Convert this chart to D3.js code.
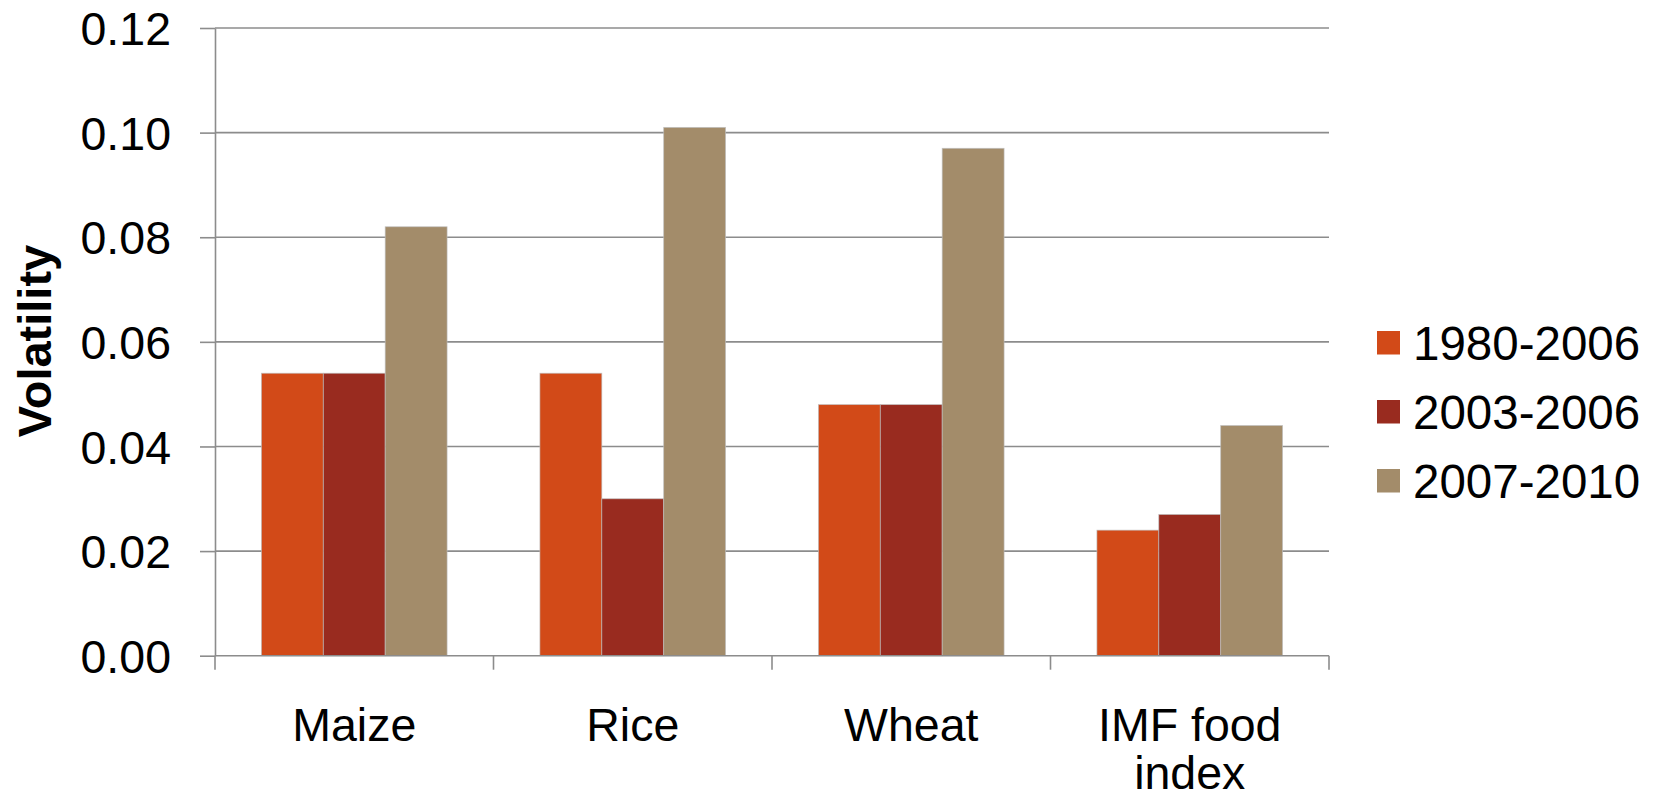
<!DOCTYPE html>
<html>
<head>
<meta charset="utf-8">
<script src="https://cdn.jsdelivr.net/npm/d3@7/dist/d3.min.js"></script>
<style>
  html, body { margin: 0; padding: 0; background: #fff; }
  svg { display: block; }
  text { font-family: "Liberation Sans", Arial, sans-serif; fill: #000; }
</style>
</head>
<body>
<svg id="chart" width="1659" height="799"></svg>
<script>
// Commodity price volatility by period
const categories = ["Maize", "Rice", "Wheat", "IMF food index"];
const periods = ["1980-2006", "2003-2006", "2007-2010"];
const vol1980_2006 = [0.054, 0.054, 0.048, 0.024];
const vol2003_2006 = [0.054, 0.030, 0.048, 0.027];
const vol2007_2010 = [0.082, 0.101, 0.097, 0.044];
const yTicks = [0, 0.02, 0.04, 0.06, 0.08, 0.10, 0.12];
const periodColors = ["#D24A18", "#992B1F", "#A38C6A"];

const seriesValues = [vol1980_2006, vol2003_2006, vol2007_2010];
const rows = categories.map((c, i) => ({
  category: c,
  values: periods.map((p, j) => ({ period: p, value: seriesValues[j][i] }))
}));

const svg = d3.select("#chart");
const plot = { left: 215, right: 1329, top: 28, bottom: 655.7 };
const gridColor = "#8c8c8c";

const x0 = d3.scaleBand().domain(categories).range([plot.left, plot.right]).padding(0);
const x1 = d3.scaleBand().domain(periods).range([0, x0.bandwidth()])
  .paddingInner(0).paddingOuter(0.75);
const y = d3.scaleLinear().domain([0, 0.12]).range([plot.bottom, plot.top]);
const color = d3.scaleOrdinal().domain(periods).range(periodColors);

// horizontal gridlines
svg.append("g")
  .selectAll("line")
  .data(yTicks.filter(t => t > 0))
  .join("line")
  .attr("x1", plot.left).attr("x2", plot.right)
  .attr("y1", d => y(d)).attr("y2", d => y(d))
  .attr("stroke", gridColor).attr("stroke-width", 1.6);

// bars
const groups = svg.append("g")
  .selectAll("g")
  .data(rows)
  .join("g")
  .attr("transform", d => `translate(${x0(d.category)},0)`);

groups.selectAll("rect")
  .data(d => d.values)
  .join("rect")
  .attr("x", d => x1(d.period))
  .attr("width", x1.bandwidth())
  .attr("y", d => y(d.value))
  .attr("height", d => y(0) - y(d.value))
  .attr("fill", d => color(d.period))
  .attr("stroke", "rgba(190,190,190,0.8)")
  .attr("stroke-width", 0.8);

// y axis
const yAxis = svg.append("g")
  .attr("transform", `translate(${plot.left},0)`)
  .call(d3.axisLeft(y).tickValues(yTicks).tickFormat(d3.format(".2f"))
    .tickSize(15).tickPadding(29).tickSizeOuter(0));
yAxis.select(".domain").attr("stroke", gridColor).attr("stroke-width", 1.6);
yAxis.selectAll(".tick line").attr("stroke", gridColor).attr("stroke-width", 1.6);
yAxis.selectAll(".tick text")
  .attr("font-size", 46.5)
  .attr("font-family", "Liberation Sans, Arial, sans-serif")
  .attr("fill", "#000")
  .attr("dy", "0.36em");

// x axis with ticks between categories
const boundaries = categories.map(c => x0(c)).concat([plot.right]);
const xAxis = svg.append("g");
xAxis.append("line")
  .attr("x1", plot.left).attr("x2", plot.right)
  .attr("y1", plot.bottom).attr("y2", plot.bottom)
  .attr("stroke", gridColor).attr("stroke-width", 1.6);
xAxis.selectAll("line.tick")
  .data(boundaries)
  .join("line")
  .attr("class", "tick")
  .attr("x1", d => d).attr("x2", d => d)
  .attr("y1", plot.bottom).attr("y2", plot.bottom + 14)
  .attr("stroke", gridColor).attr("stroke-width", 1.6);

// category labels (IMF food index wraps onto two lines)
const catLines = { "IMF food index": ["IMF food", "index"] };
xAxis.selectAll("text")
  .data(categories)
  .join("text")
  .attr("x", d => x0(d) + x0.bandwidth() / 2)
  .attr("y", 741)
  .attr("text-anchor", "middle")
  .attr("font-size", 46.5)
  .each(function (d) {
    const lines = catLines[d] || [d];
    d3.select(this).selectAll("tspan")
      .data(lines)
      .join("tspan")
      .attr("x", x0(d) + x0.bandwidth() / 2)
      .attr("dy", (l, i) => i === 0 ? 0 : 48)
      .text(l => l);
  });

// y axis title
svg.append("text")
  .attr("transform", "translate(51,341) rotate(-90)")
  .attr("text-anchor", "middle")
  .attr("font-size", 47)
  .attr("font-weight", "bold")
  .text("Volatility");

// legend
const legend = svg.append("g").attr("transform", "translate(1377,331)");
const item = legend.selectAll("g")
  .data(periods)
  .join("g")
  .attr("transform", (d, i) => `translate(0,${i * 69})`);
item.append("rect")
  .attr("width", 23).attr("height", 23.5)
  .attr("fill", d => color(d));
item.append("text")
  .attr("x", 36).attr("y", 29)
  .attr("font-size", 47.5)
  .text(d => d);
</script>
</body>
</html>
